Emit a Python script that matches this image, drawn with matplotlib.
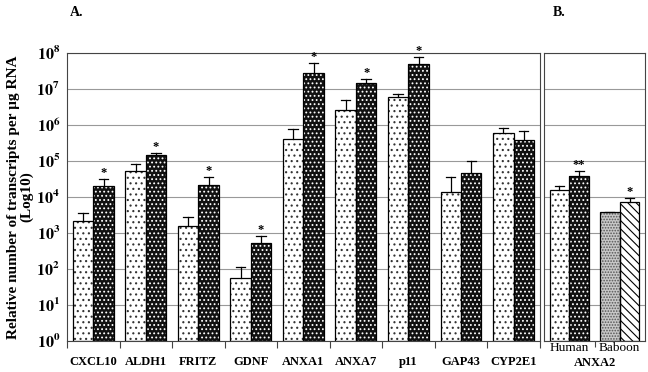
import numpy as np
import matplotlib
matplotlib.use("Agg")
import matplotlib.pyplot as plt

plt.rcParams['font.family'] = ['Liberation Serif', 'DejaVu Serif']
plt.rcParams['mathtext.fontset'] = 'stix'
plt.rcParams['hatch.linewidth'] = 0.8

# panel A data
genes = ['CXCL10', 'ALDH1', 'FRITZ', 'GDNF', 'ANXA1', 'ANXA7', 'p11', 'GAP43', 'CYP2E1']
ctrl = [2200, 54000, 1560, 55, 4.0e5, 2.6e6, 5.9e6, 14000, 5.9e5]
ctrl_err_top = [3500, 83000, 2700, 115, 7.6e5, 4.9e6, 7.4e6, 36000, 8.3e5]
treat = [20000, 147000, 21500, 540, 2.8e7, 1.44e7, 4.9e7, 45000, 3.8e5]
treat_err_top = [32000, 170000, 36000, 830, 5.2e7, 1.86e7, 7.9e7, 100000, 6.8e5]
treat_stars = ['*', '*', '*', '*', '*', '*', '*', '', '']

# panel B data
species = ['Human', 'Baboon']
b_ctrl = [15500, 3800]
b_ctrl_err_top = [20500, 3950]
b_treat = [38000, 7200]
b_treat_err_top = [53000, 9200]
b_stars = ['**', '*']

W = 0.39

fig = plt.figure(figsize=(6.48, 3.72), dpi=100)
axA = fig.add_axes([0.1034, 0.0833, 0.7296, 0.7742])
axB = fig.add_axes([0.8395, 0.0833, 0.1559, 0.7742], sharey=axA)


def draw_bar(ax, x, h, face, hatch, hatchcol):
    ax.bar(x, h, W, bottom=1, color=face, hatch=hatch, edgecolor=hatchcol, linewidth=0, zorder=2)
    ax.bar(x, h, W, bottom=1, fill=False, edgecolor='black', linewidth=0.9, zorder=3)


def draw_err(ax, x, top, err):
    ax.plot([x, x], [top, err], color='black', lw=0.9, zorder=4)
    ax.plot([x - 0.09, x + 0.09], [err, err], color='black', lw=0.9, zorder=4)


for ax in (axA, axB):
    ax.set_yscale('log')
    ax.set_ylim(1, 1e8)
    ax.yaxis.grid(True, color='#999999', lw=0.8, zorder=0)
    ax.set_axisbelow(True)
    ax.minorticks_off()
    for s in ax.spines.values():
        s.set_linewidth(0.8)
        s.set_color('#444444')

xa = np.arange(len(genes))
for i in range(len(genes)):
    draw_bar(axA, xa[i] - W / 2, ctrl[i] - 1, 'white', '...', '#333333')
    draw_bar(axA, xa[i] + W / 2, treat[i] - 1, '#111111', '....', 'white')
    draw_err(axA, xa[i] - W / 2, ctrl[i], ctrl_err_top[i])
    draw_err(axA, xa[i] + W / 2, treat[i], treat_err_top[i])
    if treat_stars[i]:
        axA.text(xa[i] + W / 2, treat_err_top[i] * 1.0, treat_stars[i], ha='center', va='bottom',
                 fontsize=9, fontweight='bold')

axA.set_xlim(-0.5, len(genes) - 0.5)
axA.set_xticks(np.arange(len(genes) + 1) - 0.5, minor=False)
axA.set_xticklabels([])
axA.tick_params(axis='x', length=5, direction='out', color='#444444')
axA.set_xticks(xa, minor=True)
axA.set_xticklabels(genes, minor=True, fontsize=9, fontweight='bold')
axA.tick_params(axis='x', which='minor', length=0, pad=11)
axA.set_yticks([10.0 ** k for k in range(9)])
axA.set_yticklabels([r'$\mathbf{10^{%d}}$' % k for k in range(9)], fontsize=11.5)
axA.tick_params(axis='y', length=0, pad=5)
axA.set_ylabel('Relative number of transcripts per \u00b5g RNA\n(Log10)', fontsize=11,
               fontweight='bold', labelpad=2, linespacing=1.0)

xb = np.arange(len(species))
draw_bar(axB, xb[0] - W / 2, b_ctrl[0] - 1, 'white', '...', '#333333')
draw_bar(axB, xb[0] + W / 2, b_treat[0] - 1, '#111111', '....', 'white')
draw_bar(axB, xb[1] - W / 2, b_ctrl[1] - 1, '#c8c8c8', '......', '#555555')
draw_bar(axB, xb[1] + W / 2, b_treat[1] - 1, 'white', '\\\\\\\\', 'black')
for i in range(len(species)):
    draw_err(axB, xb[i] - W / 2, b_ctrl[i], b_ctrl_err_top[i])
    draw_err(axB, xb[i] + W / 2, b_treat[i], b_treat_err_top[i])
    axB.text(xb[i] + W / 2, b_treat_err_top[i] * 1.0, b_stars[i], ha='center', va='bottom',
             fontsize=9, fontweight='bold')

axB.set_xlim(-0.5, 1.5)
axB.set_xticks([0.5])
axB.set_xticklabels([])
axB.tick_params(axis='x', length=4, direction='out', color='#444444')
axB.set_xticks(xb, minor=True)
axB.set_xticklabels(species, minor=True, fontsize=9.5)
axB.tick_params(axis='x', which='minor', length=0, pad=1)
axB.tick_params(axis='y', left=False, labelleft=False)
axB.text(0.5, -0.055, 'ANXA2', transform=axB.transAxes, ha='center', va='top',
         fontsize=9, fontweight='bold')

fig.text(70 / 648, 1 - 12 / 372, 'A.', fontsize=10, fontweight='bold', va='center')
fig.text(553 / 648, 1 - 12 / 372, 'B.', fontsize=10, fontweight='bold', va='center')

fig.savefig('out.png', dpi=100)
